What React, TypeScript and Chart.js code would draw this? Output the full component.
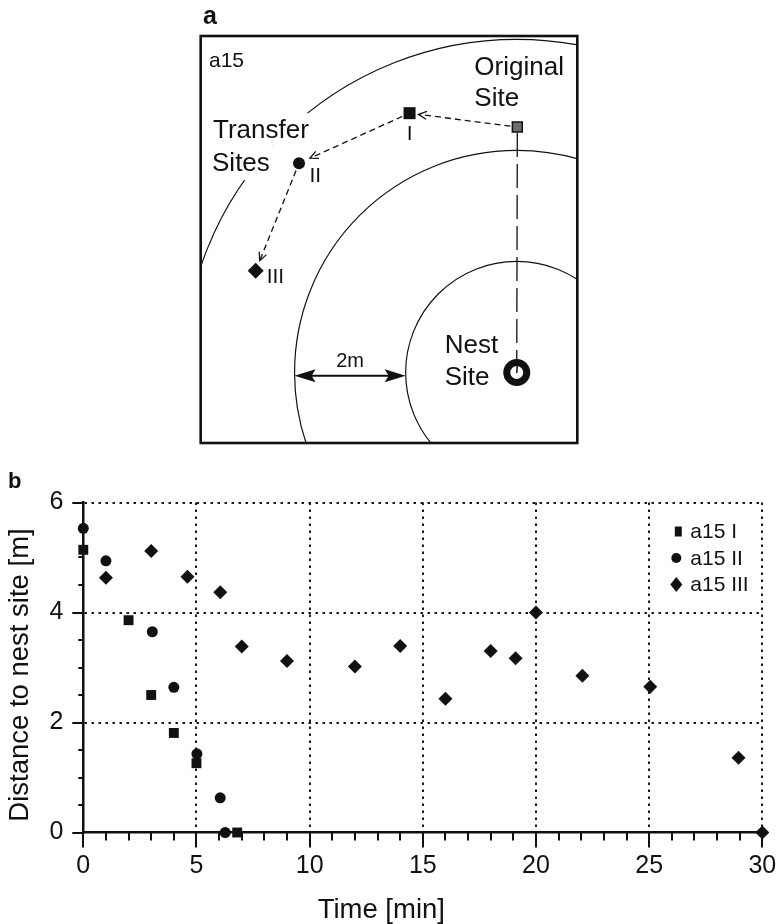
import React, { useEffect, useRef } from 'react';
import { Chart, registerables } from 'chart.js';

Chart.register(...registerables);

const FONT = '"Liberation Sans", Arial, Helvetica, sans-serif';
const INK = '#111111';

// ---------- Panel a : site map (metres, nest at origin) ----------
const siteLabels = ['Original Site', 'I', 'II', 'III', 'Nest Site'];
const siteX = [0.01, -1.93, -3.92, -4.7, 0];
const siteY = [4.42, 4.67, 3.77, 1.83, 0];
const ringRadii = [2, 4, 6];
const mapXRange = [-5.69, 1.09];
const mapYRange = [-1.27, 6.06];
const scaleBarX = [-4, -2];
const scaleBarY = -0.06;
const scaleBarLabel = '2m';
const animalLabel = 'a15';

// ---------- Panel b : distance to nest over time ----------
const seriesLabels = ['a15 I', 'a15 II', 'a15 III'];
const timeI = [0, 2, 3, 4, 5, 6.8];
const distI = [5.14, 3.86, 2.5, 1.81, 1.26, 0];
const timeII = [0, 1, 3.05, 4, 5.02, 6.05, 6.27];
const distII = [5.53, 4.94, 3.65, 2.64, 1.43, 0.63, 0];
const timeIII = [1, 3, 4.6, 6.05, 7, 9, 12, 14, 16, 18, 19.1, 20, 22.05, 25.05, 28.95, 30];
const distIII = [4.63, 5.12, 4.65, 4.37, 3.38, 3.12, 3.02, 3.39, 2.43, 3.3, 3.17, 4.0, 2.85, 2.65, 1.36, 0];
const xMin = 0;
const xMax = 30;
const xMajorStep = 5;
const xMinorStep = 1;
const yMin = 0;
const yMax = 6;
const yMajorStep = 2;
const yMinorStep = 0.5;
const xTitle = 'Time [min]';
const yTitle = 'Distance to nest site [m]';

const pts = (xs: number[], ys: number[]) => xs.map((x, i) => ({ x, y: ys[i] }));

function dashedArrow(ctx: any, x1: number, y1: number, x2: number, y2: number, g1: number, g2: number) {
  const dx = x2 - x1;
  const dy = y2 - y1;
  const L = Math.hypot(dx, dy);
  const ux = dx / L;
  const uy = dy / L;
  const sx = x1 + ux * g1;
  const sy = y1 + uy * g1;
  const ex = x2 - ux * g2;
  const ey = y2 - uy * g2;
  ctx.setLineDash([6, 4]);
  ctx.beginPath();
  ctx.moveTo(sx, sy);
  ctx.lineTo(ex, ey);
  ctx.stroke();
  ctx.setLineDash([]);
  const a = Math.atan2(dy, dx);
  const h = 9;
  const s = 0.45;
  ctx.beginPath();
  ctx.moveTo(ex - h * Math.cos(a - s), ey - h * Math.sin(a - s));
  ctx.lineTo(ex, ey);
  ctx.lineTo(ex - h * Math.cos(a + s), ey - h * Math.sin(a + s));
  ctx.stroke();
}

function filledHead(ctx: any, tx: number, ty: number, dir: number) {
  ctx.beginPath();
  ctx.moveTo(tx, ty);
  ctx.lineTo(tx - dir * 21, ty - 6.5);
  ctx.lineTo(tx - dir * 17, ty);
  ctx.lineTo(tx - dir * 21, ty + 6.5);
  ctx.closePath();
  ctx.fill();
}

const mapPlugin = {
  id: 'mapDecor',
  beforeDatasetsDraw(chart: any) {
    const { ctx, chartArea: a, scales } = chart;
    const px = (v: number) => scales.x.getPixelForValue(v);
    const py = (v: number) => scales.y.getPixelForValue(v);
    const cx = px(0);
    const cy = py(0);
    ctx.save();
    ctx.beginPath();
    ctx.rect(a.left, a.top, a.right - a.left, a.bottom - a.top);
    ctx.clip();
    ctx.strokeStyle = INK;
    ctx.lineWidth = 1.2;
    ringRadii.forEach((r) => {
      const rx = Math.abs(px(r) - cx);
      const ry = Math.abs(py(r) - cy);
      ctx.beginPath();
      ctx.ellipse(cx, cy, rx, ry, 0, 0, Math.PI * 2);
      ctx.stroke();
    });
    // knock-out behind "Transfer Sites"
    const IIx = px(siteX[2]);
    const IIy = py(siteY[2]);
    ctx.font = `26px ${FONT}`;
    ctx.fillStyle = '#fff';
    const w1 = ctx.measureText('Transfer').width;
    const w2 = ctx.measureText('Sites').width;
    ctx.fillRect(IIx - 92, IIy - 50, w1 + 12, 32);
    ctx.fillRect(IIx - 92, IIy - 18, w2 + 12, 35);
    ctx.restore();

    ctx.save();
    ctx.strokeStyle = INK;
    ctx.lineWidth = 1.3;
    // vertical long-dashed line from original site to nest
    const ox = px(siteX[0]);
    const oy = py(siteY[0]);
    ctx.setLineDash([24, 7]);
    ctx.beginPath();
    ctx.moveTo(ox, oy + 6);
    ctx.lineTo(cx, cy - 12);
    ctx.stroke();
    ctx.setLineDash([]);
    // transfer route
    dashedArrow(ctx, ox, oy, px(siteX[1]), py(siteY[1]), 7, 9);
    dashedArrow(ctx, px(siteX[1]), py(siteY[1]), IIx, IIy, 8, 12);
    dashedArrow(ctx, IIx, IIy, px(siteX[3]), py(siteY[3]), 8, 11);
    // 2 m scale bar
    const bx1 = px(scaleBarX[0]);
    const bx2 = px(scaleBarX[1]);
    const by = py(scaleBarY);
    ctx.lineWidth = 2;
    ctx.beginPath();
    ctx.moveTo(bx1 + 15, by);
    ctx.lineTo(bx2 - 15, by);
    ctx.stroke();
    ctx.fillStyle = INK;
    filledHead(ctx, bx1, by, -1);
    filledHead(ctx, bx2, by, 1);
    ctx.restore();
  },
  afterDatasetsDraw(chart: any) {
    const { ctx, scales } = chart;
    const nx = scales.x.getPixelForValue(siteX[4]);
    const ny = scales.y.getPixelForValue(siteY[4]);
    ctx.save();
    ctx.strokeStyle = INK;
    ctx.lineWidth = 1.5;
    ctx.beginPath();
    ctx.moveTo(nx + 0.5, ny - 6.5);
    ctx.lineTo(nx, ny + 0.5);
    ctx.stroke();
    ctx.restore();
  },
  afterDraw(chart: any) {
    const { ctx, chartArea: a, scales } = chart;
    const px = (v: number) => scales.x.getPixelForValue(v);
    const py = (v: number) => scales.y.getPixelForValue(v);
    ctx.save();
    ctx.fillStyle = INK;
    ctx.textBaseline = 'alphabetic';
    ctx.textAlign = 'left';
    // big labels
    ctx.font = `26px ${FONT}`;
    const ox = px(siteX[0]);
    const oy = py(siteY[0]);
    ctx.fillText('Original', ox - 43, oy - 52);
    ctx.fillText('Site', ox - 43, oy - 21);
    const IIx = px(siteX[2]);
    const IIy = py(siteY[2]);
    ctx.fillText('Transfer', IIx - 86, IIy - 25);
    ctx.fillText('Sites', IIx - 87, IIy + 8);
    const nx = px(siteX[4]);
    const ny = py(siteY[4]);
    ctx.fillText('Nest', nx - 72, ny - 19.5);
    ctx.fillText('Site', nx - 72, ny + 12.5);
    // site numerals
    ctx.font = `21px ${FONT}`;
    ctx.textAlign = 'center';
    ctx.fillText(siteLabels[1], px(siteX[1]), py(siteY[1]) + 27);
    ctx.textAlign = 'left';
    ctx.fillText(siteLabels[2], IIx + 10.5, IIy + 19);
    ctx.fillText(siteLabels[3], px(siteX[3]) + 11, py(siteY[3]) + 12.5);
    // scale bar label
    ctx.font = `20px ${FONT}`;
    ctx.textAlign = 'center';
    ctx.fillText(scaleBarLabel, (px(scaleBarX[0]) + px(scaleBarX[1])) / 2, py(scaleBarY) - 9);
    // animal id
    ctx.font = `21px ${FONT}`;
    ctx.textAlign = 'left';
    ctx.fillText(animalLabel, a.left + 8.3, a.top + 31);
    // panel letter
    ctx.font = `bold 25px ${FONT}`;
    ctx.fillText('a', a.left + 2.3, a.top - 12);
    // frame
    ctx.strokeStyle = INK;
    ctx.lineWidth = 2.6;
    ctx.strokeRect(a.left, a.top, a.right - a.left, a.bottom - a.top);
    ctx.restore();
  },
};

const plotPlugin = {
  id: 'plotDecor',
  afterDraw(chart: any) {
    const { ctx, chartArea: a, scales } = chart;
    const xs = scales.x;
    const ys = scales.y;
    ctx.save();
    ctx.strokeStyle = INK;
    ctx.lineWidth = 2;
    // x tick marks (outward, every minute; longer every 5)
    for (let v = xMin; v <= xMax + 1e-9; v += xMinorStep) {
      const p = Math.round(xs.getPixelForValue(v)) + 0.0;
      const len = Math.abs(v % xMajorStep) < 1e-9 ? 15 : 8;
      ctx.beginPath();
      ctx.moveTo(p, a.bottom);
      ctx.lineTo(p, a.bottom + len);
      ctx.stroke();
    }
    // y tick marks
    for (let v = yMin; v <= yMax + 1e-9; v += yMinorStep) {
      const p = Math.round(ys.getPixelForValue(v));
      const len = Math.abs(v % yMajorStep) < 1e-9 ? 11 : 5;
      ctx.beginPath();
      ctx.moveTo(a.left - len, p);
      ctx.lineTo(a.left, p);
      ctx.stroke();
    }
    // axis titles
    ctx.fillStyle = INK;
    ctx.font = `27.5px ${FONT}`;
    ctx.textAlign = 'center';
    ctx.textBaseline = 'middle';
    ctx.fillText(xTitle, a.left + 298, a.bottom + 77.5);
    ctx.save();
    ctx.translate(a.left - 63, (a.top + a.bottom) / 2 + 7.5);
    ctx.rotate(-Math.PI / 2);
    ctx.fillText(yTitle, 0, 0);
    ctx.restore();
    // legend
    const mx = a.right - 86;
    const tx = a.right - 72;
    ctx.font = `21px ${FONT}`;
    ctx.textAlign = 'left';
    seriesLabels.forEach((lab, i) => {
      const yy = a.top + 29 + 26.5 * i;
      ctx.beginPath();
      if (i === 0) {
        ctx.rect(mx - 1.5, yy - 5, 7, 10);
      } else if (i === 1) {
        ctx.arc(mx, yy, 5, 0, Math.PI * 2);
      } else {
        ctx.moveTo(mx, yy - 7.5);
        ctx.lineTo(mx + 6, yy);
        ctx.lineTo(mx, yy + 7.5);
        ctx.lineTo(mx - 6, yy);
        ctx.closePath();
      }
      ctx.fill();
      ctx.fillText(lab, tx, yy + 1);
    });
    // panel letter
    ctx.font = `bold 22px ${FONT}`;
    ctx.textBaseline = 'alphabetic';
    ctx.fillText('b', a.left - 75.3, a.top - 14.5);
    ctx.restore();
  },
};

function mapConfig(): any {
  const mk = (i: number, style: string, r: number, bg: string, bw: number) => ({
    label: siteLabels[i],
    data: [{ x: siteX[i], y: siteY[i] }],
    pointStyle: style,
    pointRadius: r,
    pointHoverRadius: r,
    pointBackgroundColor: bg,
    pointBorderColor: INK,
    pointBorderWidth: bw,
    clip: false,
  });
  return {
    type: 'scatter',
    data: {
      datasets: [
        mk(0, 'rect', 7, '#6e6e6e', 1.5),
        mk(1, 'rect', 8.5, INK, 0),
        mk(2, 'circle', 6, INK, 0),
        mk(3, 'rectRot', 8, INK, 0),
        mk(4, 'circle', 10, '#ffffff', 7),
      ],
    },
    options: {
      responsive: false,
      animation: false,
      devicePixelRatio: 1,
      events: [],
      layout: { padding: { left: 20.7, top: 36, right: 22.7, bottom: 17 } },
      scales: {
        x: { type: 'linear', display: false, min: mapXRange[0], max: mapXRange[1] },
        y: { type: 'linear', display: false, min: mapYRange[0], max: mapYRange[1] },
      },
      plugins: { legend: { display: false }, tooltip: { enabled: false } },
    },
    plugins: [mapPlugin],
  };
}

function plotConfig(): any {
  const gridColor = (c: any) => (c.tick && Math.abs(c.tick.value) < 1e-9 ? 'rgba(0,0,0,0)' : '#1a1a1a');
  const tickFont = { family: FONT, size: 25 };
  const ds = (i: number, data: any[], style: string, r: number) => ({
    label: seriesLabels[i],
    data,
    pointStyle: style,
    pointRadius: r,
    pointHoverRadius: r,
    pointBackgroundColor: INK,
    pointBorderColor: INK,
    pointBorderWidth: 0,
    clip: false,
  });
  return {
    type: 'scatter',
    data: {
      datasets: [
        ds(0, pts(timeI, distI), 'rect', 7),
        ds(1, pts(timeII, distII), 'circle', 5.5),
        ds(2, pts(timeIII, distIII), 'rectRot', 7),
      ],
    },
    options: {
      responsive: false,
      animation: false,
      devicePixelRatio: 1,
      events: [],
      layout: { padding: { left: 0, top: 42.5, right: 13.7, bottom: 0 } },
      scales: {
        x: {
          type: 'linear',
          min: xMin,
          max: xMax,
          ticks: { stepSize: xMajorStep, font: tickFont, color: INK, padding: 18.5, maxRotation: 0, autoSkip: false },
          grid: { color: gridColor, lineWidth: 2, drawTicks: false },
          border: { display: true, color: INK, width: 2.5, dash: [2.5, 4.5] },
          afterFit: (s: any) => {
            s.height = 91.5;
            s.paddingLeft = 0;
            s.paddingRight = 0;
          },
        },
        y: {
          type: 'linear',
          min: yMin,
          max: yMax,
          ticks: { stepSize: yMajorStep, font: tickFont, color: INK, padding: 20 },
          grid: { color: gridColor, lineWidth: 2, drawTicks: false },
          border: { display: true, color: INK, width: 2.5, dash: [2.5, 4.5] },
          afterFit: (s: any) => {
            s.width = 83.3;
            s.paddingTop = 0;
            s.paddingBottom = 0;
          },
        },
      },
      plugins: { legend: { display: false }, tooltip: { enabled: false } },
    },
    plugins: [plotPlugin],
  };
}

export default function App() {
  const aRef = useRef<HTMLCanvasElement | null>(null);
  const bRef = useRef<HTMLCanvasElement | null>(null);
  useEffect(() => {
    const ca = new Chart(aRef.current as HTMLCanvasElement, mapConfig());
    const cb = new Chart(bRef.current as HTMLCanvasElement, plotConfig());
    return () => {
      ca.destroy();
      cb.destroy();
    };
  }, []);
  return (
    <div style={{ position: 'absolute', left: 0, top: 0, width: 776, height: 924, background: '#fff', overflow: 'hidden' }}>
      <canvas ref={aRef} width={420} height={460} style={{ position: 'absolute', left: 180, top: 0, width: 420, height: 460 }} />
      <canvas ref={bRef} width={776} height={464} style={{ position: 'absolute', left: 0, top: 460, width: 776, height: 464 }} />
    </div>
  );
}
